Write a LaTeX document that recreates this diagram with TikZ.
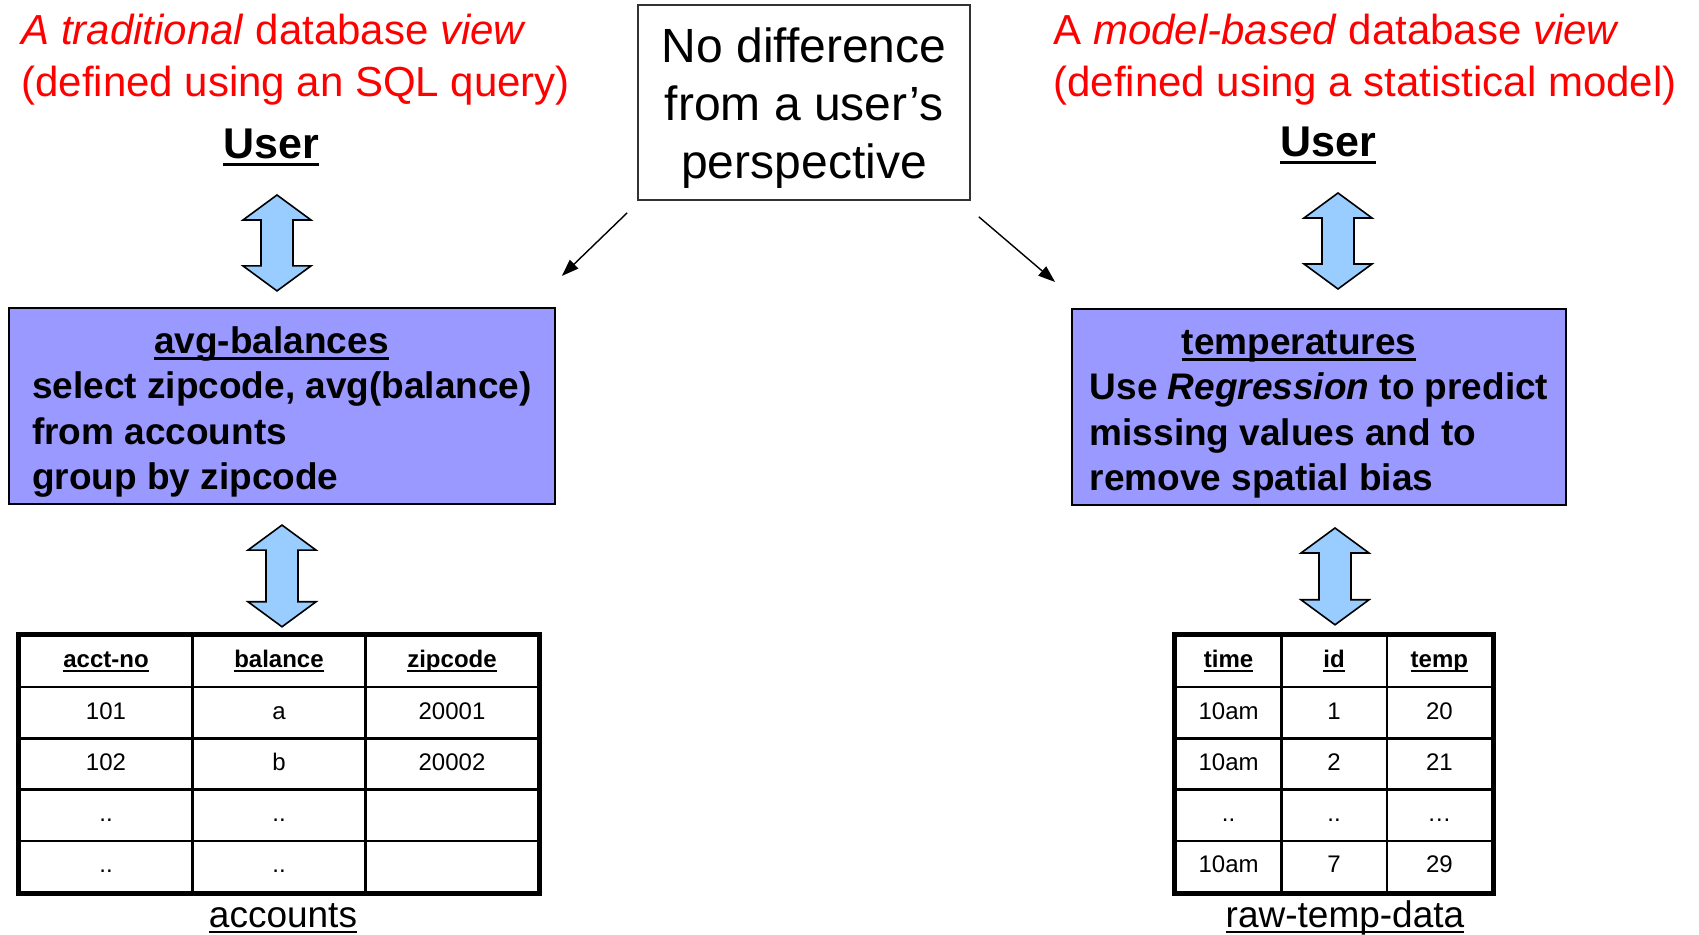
\documentclass[tikz,border=0pt]{standalone}
\usepackage{fontspec}
\setmainfont{Liberation Sans}
\usetikzlibrary{
  arrows.meta,
  positioning,
  calc,
  matrix
}
\definecolor{viewred}{RGB}{255,0,0}
\definecolor{viewpurple}{RGB}{153,153,255}
\definecolor{linkblue}{RGB}{153,204,255}
\definecolor{notegray}{RGB}{50,50,50}
% underline with a rule of our own thickness (runs through descenders)
\newcommand{\ulbox}[2][0.075em]{\vtop{\hbox{\raisebox{0pt}[\height][0pt]{#2}}\kern0.09em\hrule height #1}}
\newcommand{\colhead}[1]{\ulbox[0.07em]{\textbf{#1}}}
% fat double arrow, from a top tip down to a bottom tip
\newcommand{\fatarrow}[2]{%
  \draw[bigArrow] let \p1=#1, \p2=#2 in
    (\x1,\y1) -- (\x1+17pt,\y1-12.5pt) -- (\x1+8pt,\y1-12.5pt)
    -- (\x1+8pt,\y2+12.5pt) -- (\x1+17pt,\y2+12.5pt) -- (\x1,\y2)
    -- (\x1-17pt,\y2+12.5pt) -- (\x1-8pt,\y2+12.5pt)
    -- (\x1-8pt,\y1-12.5pt) -- (\x1-17pt,\y1-12.5pt) -- cycle;}
\tikzset{
  viewTitle/.style={
    text=viewred,
    anchor=base west,
    align=left,
    inner sep=0,
    font=\fontsize{21}{26}\selectfont
  },
  userLabel/.style={
    anchor=base,
    inner sep=0,
    font=\bfseries\fontsize{21.5}{26}\selectfont
  },
  noteBox/.style={
    rectangle,
    draw=notegray,
    line width=0.8pt,
    minimum width=166pt,
    minimum height=97.5pt,
    align=center,
    font=\fontsize{24}{28.9}\selectfont
  },
  viewBox/.style={
    rectangle,
    draw=black,
    line width=0.9pt,
    fill=viewpurple,
    align=left,
    font=\bfseries\fontsize{18.5}{22.7}\selectfont
  },
  bigArrow/.style={
    draw=black,
    line width=0.8pt,
    fill=linkblue,
    line join=miter
  },
  noteArrow/.style={
    -{Triangle[length=8.5pt,width=6pt]},
    line width=0.7pt
  },
  dataTable/.style={
    matrix of nodes,
    nodes in empty cells,
    inner sep=0,
    outer sep=0,
    column sep=-1.2pt,
    row sep=-1.2pt,
    nodes={
      draw,
      line width=1.2pt,
      minimum height=25.6pt,
      inner sep=0,
      text height=8.6pt,
      text depth=2.4pt,
      font=\fontsize{12}{14}\selectfont
    }
  },
  tableFrame/.style={line width=2.6pt},
  tableName/.style={
    inner sep=0,
    text height=13.5pt,
    font=\fontsize{18.5}{22}\selectfont
  }
}

\begin{document}
\begin{tikzpicture}[x=0.5pt, y=-0.5pt]
  \useasboundingbox (0,0) rectangle (1699,935);

  % titles and the note in the middle
  \node[viewTitle] (titleL) at (21,97)
    {\textit{A traditional} database \textit{view}\\(defined using an SQL query)};
  \node[viewTitle] (titleR) at (1053,97)
    {A \textit{model-based} database \textit{view}\\(defined using a statistical model)};
  \node[noteBox] (note) at (804,102.5)
    {\rule{0pt}{23pt}No difference\\from a user’s\\perspective};

  \node[userLabel] (userL) at (271,159) {\ulbox{User}};
  \node[userLabel] (userR) at (1328,157) {\ulbox{User}};

  % the two views
  \node[viewBox, minimum width=273pt, minimum height=97pt] (viewL) at (282,406)
    {\rule{0pt}{19.5pt}\hspace*{61pt}\ulbox{avg-balances}\\
     select zipcode, avg(balance)\\
     from accounts\\
     group by zipcode};
  \node[viewBox, minimum width=247pt, minimum height=98pt] (viewR) at (1319,407)
    {\rule{0pt}{19.5pt}\hspace*{46pt}\ulbox{temperatures}\\
     Use \textit{Regression} to predict\\
     missing values and to\\
     remove spatial bias};

  % base tables
  \matrix (tableL) [dataTable, nodes={minimum width=86.5pt}] at (279,764) {
    \colhead{acct-no} & \colhead{balance} & \colhead{zipcode} \\
    101 & a & 20001 \\
    102 & b & 20002 \\
    .. & .. & \\
    .. & .. & \\
  };
  \draw[tableFrame] (tableL.north west) rectangle (tableL.south east);
  \node[tableName, below=3.5pt of tableL, xshift=2pt] (capL) {\ulbox[0.05em]{accounts}};

  \matrix (tableR) [dataTable, nodes={minimum width=52.7pt}] at (1334,764) {
    \colhead{time} & \colhead{id} & \colhead{temp} \\
    10am & 1 & 20 \\
    10am & 2 & 21 \\
    .. & .. & … \\
    10am & 7 & 29 \\
  };
  \draw[tableFrame] (tableR.north west) rectangle (tableR.south east);
  \node[tableName, below=3.5pt of tableR, xshift=5.5pt] (capR) {\ulbox[0.05em]{raw-temp-data}};

  % connectors
  \fatarrow{($(userL.base)+(6,36)$)}{($(viewL.north)+(-5,-16)$)}
  \fatarrow{($(viewL.south)+(0,20)$)}{($(tableL.north)+(3,-8)$)}
  \fatarrow{($(userR.base)+(10,36)$)}{($(viewR.north)+(19,-19)$)}
  \fatarrow{($(viewR.south)+(16,22)$)}{($(tableR.north)+(1,-10)$)}

  \coordinate (noteOutL) at ($(note.south west)+(-10,12)$);
  \coordinate (noteInL) at ($(viewL.north east)+(6,-31)$);
  \coordinate (noteOutR) at ($(note.south east)+(8,16)$);
  \coordinate (noteInR) at ($(viewR.north west)+(-16,-26)$);
  \draw[noteArrow] (noteOutL) -- (noteInL);
  \draw[noteArrow] (noteOutR) -- (noteInR);
\end{tikzpicture}
\end{document}
